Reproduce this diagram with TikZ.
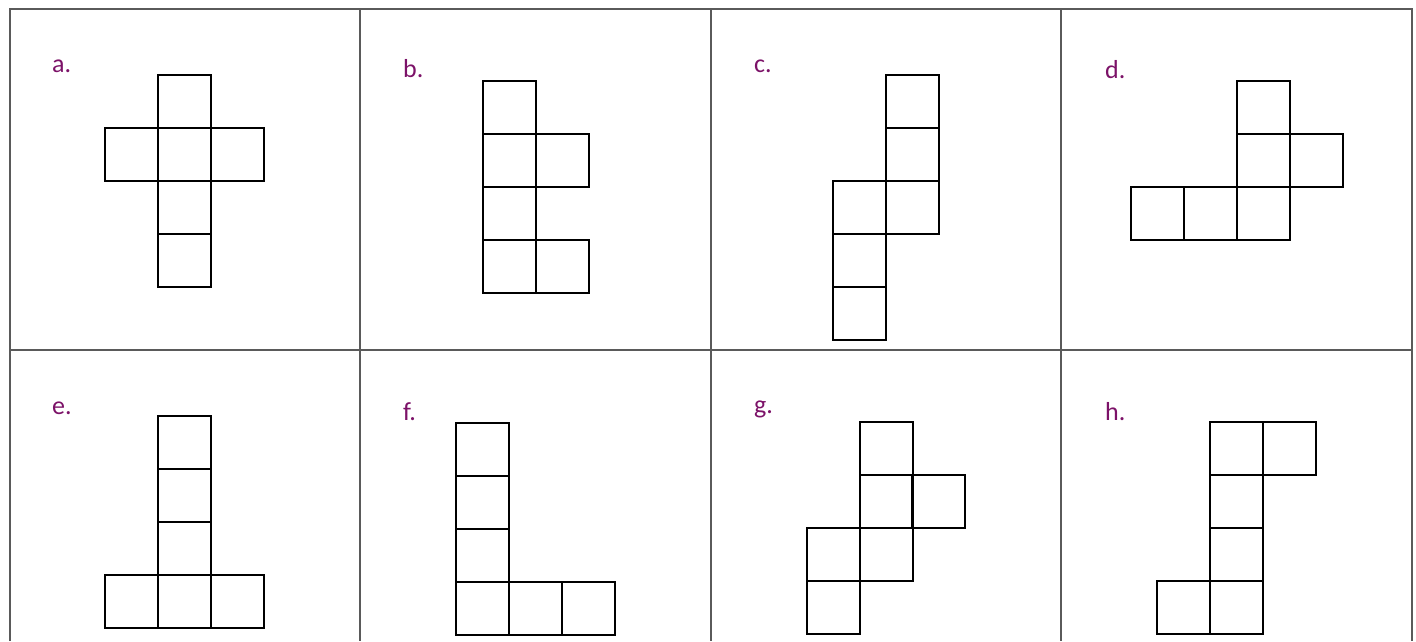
\documentclass[tikz,border=0pt]{standalone}
\usepackage{fontspec}
\setmainfont{Carlito}
\definecolor{lab}{RGB}{124,18,104}
\definecolor{gridc}{RGB}{90,90,90}
\newcommand\netsq[2]{\draw[sq] (#1,-#2) rectangle ++(53,-53);}
\begin{document}
\begin{tikzpicture}[x=1pt,y=1pt,
  sq/.style={draw=black,line width=1.2pt},
  gridline/.style={draw=gridc,line width=2pt},
  lbl/.style={anchor=base west,inner sep=0pt,text=lab,font=\fontsize{26}{30}\selectfont}]
\useasboundingbox (0,0) rectangle (1416,-641);
% table
\draw[gridline] (9.5,-641) -- (9.5,-8.5) -- (1411.5,-8.5) -- (1411.5,-641);
\draw[gridline] (360,-8.5) -- (360,-641);
\draw[gridline] (711,-8.5) -- (711,-641);
\draw[gridline] (1061,-8.5) -- (1061,-641);
\draw[gridline] (9.5,-350) -- (1411.5,-350);
% labels
\node[lbl] (la) at (52,-72) {a.};
\node[lbl] (lb) at (403,-77.5) {b.};
\node[lbl] (lc) at (754,-72) {c.};
\node[lbl] (ld) at (1105,-78) {d.};
\node[lbl] (le) at (52,-414) {e.};
\node[lbl] (lf) at (403,-420) {f.};
\node[lbl] (lg) at (754,-413) {g.};
\node[lbl] (lh) at (1105,-420) {h.};
% a
\netsq{158}{75}\netsq{105}{128}\netsq{158}{128}\netsq{211}{128}\netsq{158}{181}\netsq{158}{234}
% b
\netsq{483}{81}\netsq{483}{134}\netsq{483}{187}\netsq{483}{240}\netsq{536}{134}\netsq{536}{240}
% c
\netsq{886}{75}\netsq{886}{128}\netsq{886}{181}\netsq{833}{181}\netsq{833}{234}\netsq{833}{287}
% d
\netsq{1237}{81}\netsq{1237}{134}\netsq{1237}{187}\netsq{1290}{134}\netsq{1131}{187}\netsq{1184}{187}
% e
\netsq{158}{416}\netsq{158}{469}\netsq{158}{522}\netsq{158}{575}\netsq{105}{575}\netsq{211}{575}
% f
\netsq{456}{423}\netsq{456}{476}\netsq{456}{529}\netsq{456}{582}\netsq{509}{582}\netsq{562}{582}
% g
\netsq{860}{422}\netsq{860}{475}\netsq{860}{528}\netsq{912}{475}\netsq{807}{528}\netsq{807}{581}
% h
\netsq{1210}{422}\netsq{1210}{475}\netsq{1210}{528}\netsq{1210}{581}\netsq{1263}{422}\netsq{1157}{581}
\end{tikzpicture}
\end{document}
